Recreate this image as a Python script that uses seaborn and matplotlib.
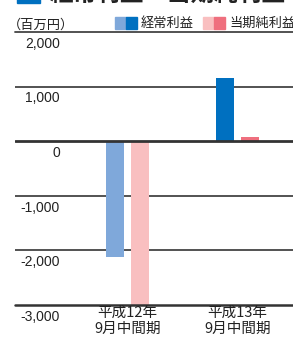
import matplotlib
matplotlib.use("Agg")
import matplotlib.pyplot as plt
import matplotlib.transforms as mtrans
from matplotlib.patches import Rectangle
import seaborn as sns
import pandas as pd

# ---- data ----
periods = ["平成12年\n9月中間期", "平成13年\n9月中間期"]
series = ["経常利益", "当期純利益"]
ordinary_profit = [-2130, 1160]
net_profit = [-3000, 80]
yticks = [2000, 1000, 0, -1000, -2000, -3000]
ytick_labels = ["2,000", "1,000", "0", "-1,000", "-2,000", "-3,000"]
title = "経常利益・当期純利益"
unit_label = "（百万円）"

light_colors = {"経常利益": "#7FA8DA", "当期純利益": "#F9BFC0"}
dark_colors = {"経常利益": "#0070C0", "当期純利益": "#EF6F7E"}

df = pd.DataFrame({
    "period": periods * 2,
    "series": [series[0]] * 2 + [series[1]] * 2,
    "value": ordinary_profit + net_profit,
})

sns.set_style("white")
plt.rcParams["font.family"] = ["Noto Sans CJK JP", "DejaVu Sans"]

W, H = 293, 342
fig = plt.figure(figsize=(W / 100, H / 100), dpi=100)

def fx(px):
    return px / W

def fy(py):
    return 1 - py / H

ax_left, ax_right, ax_top, ax_bot = 15, 293, 32, 305
ax = fig.add_axes([fx(ax_left), fy(ax_bot), fx(ax_right - ax_left), (ax_bot - ax_top) / H])

sns.barplot(data=df, x="period", y="value", hue="series", order=periods,
            hue_order=series, palette=light_colors, width=0.455, gap=0.28,
            ax=ax, legend=False, saturation=1, zorder=2)

# recolor: first period light shades, second period dark shades
for s, cont in zip(series, ax.containers):
    for i, bar in enumerate(cont):
        bar.set_facecolor(light_colors[s] if i == 0 else dark_colors[s])
        bar.set_edgecolor("none")
        bar.set_linewidth(0)

ax.set_ylim(-3000, 2000)
ax.set_xlim(-1.023, 1.505)
for sp in ax.spines.values():
    sp.set_visible(False)
ax.set_xticks([])
ax.set_yticks([])
ax.set_xlabel("")
ax.set_ylabel("")
ax.patch.set_alpha(0)

# gridlines
for v in yticks:
    if v == 0:
        ax.axhline(v, color="#333333", lw=2.0, zorder=3)
    elif v == -3000:
        ax.axhline(v, color="#333333", lw=1.8, zorder=3, clip_on=False)
    elif v == 2000:
        ax.axhline(v, color="#444444", lw=1.3, zorder=1, clip_on=False)
    else:
        ax.axhline(v, color="#444444", lw=1.3, zorder=1)

# tick labels below each gridline, right aligned
trans = mtrans.blended_transform_factory(fig.transFigure, ax.transData) + \
    mtrans.ScaledTranslation(0, -3.5 / 72, fig.dpi_scale_trans)
for v, lab in zip(yticks, ytick_labels):
    ax.text(fx(60), v, lab, transform=trans, ha="right", va="top",
            fontsize=10, family=["Liberation Sans", "DejaVu Sans"], color="#222222")

# category labels
for i, p in enumerate(periods):
    xpix = ax.transData.transform((i, 0))[0]
    fig.text(xpix / W, fy(306), p, ha="center", va="top", fontsize=10.5,
             linespacing=1.15, color="#222222")

# unit label
fig.text(fx(8), fy(25), unit_label, ha="left", va="center", fontsize=9.5, color="#222222")

# legend
for (x0, s) in [(115, series[0]), (203, series[1])]:
    fig.patches.append(Rectangle((fx(x0), fy(29)), fx(11), 12 / H,
                                 transform=fig.transFigure, color=light_colors[s]))
    fig.patches.append(Rectangle((fx(x0 + 11), fy(29)), fx(11), 12 / H,
                                 transform=fig.transFigure, color=dark_colors[s]))
    fig.text(fx(x0 + 26), fy(23), s, ha="left", va="center", fontsize=9.5, color="#222222")

# cut-off title at top
fig.patches.append(Rectangle((fx(17), fy(3)), fx(23), 20 / H,
                             transform=fig.transFigure, color="#0070C0"))
fig.text(fx(50), fy(0.5), title, ha="left", va="baseline", fontsize=17,
         fontweight="bold", color="#222222")

fig.savefig("out.png", dpi=100)
